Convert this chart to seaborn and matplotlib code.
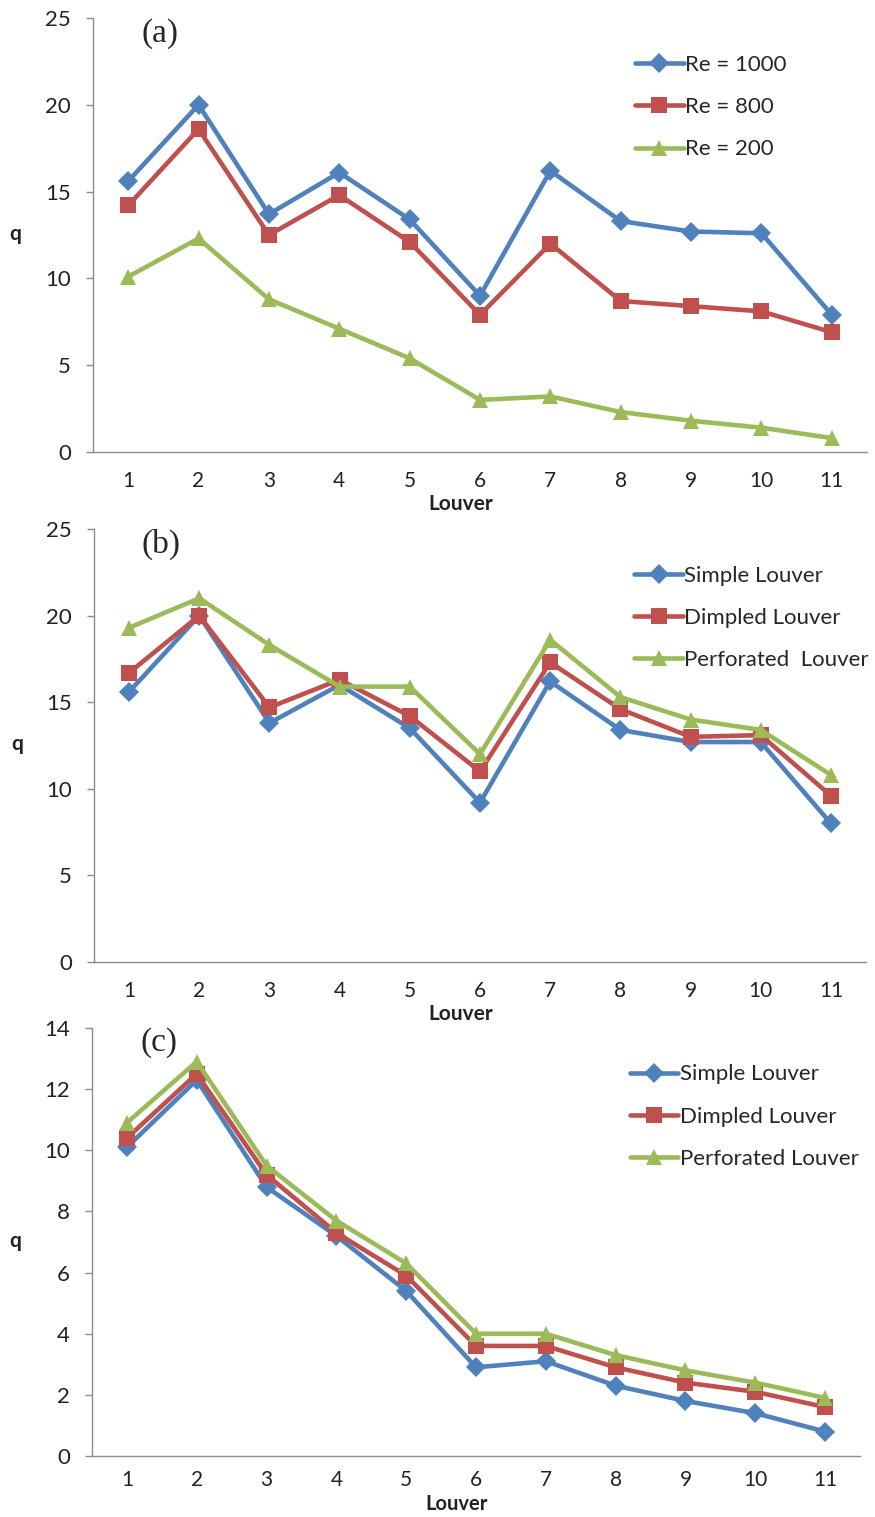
import numpy as np
import pandas as pd
import matplotlib.pyplot as plt
from matplotlib.ticker import MultipleLocator
import seaborn as sns

# Datos
louver = list(range(1, 12))

# (a) Simple louver para distintos Re
a_re1000 = [15.6, 20.0, 13.7, 16.1, 13.4, 9.0, 16.2, 13.3, 12.7, 12.6, 7.9]
a_re800 = [14.2, 18.6, 12.5, 14.8, 12.1, 7.9, 12.0, 8.7, 8.4, 8.1, 6.9]
a_re200 = [10.1, 12.3, 8.8, 7.1, 5.4, 3.0, 3.2, 2.3, 1.8, 1.4, 0.8]

# (b) distintos louvers
b_simple = [15.6, 20.0, 13.8, 16.0, 13.5, 9.2, 16.2, 13.4, 12.7, 12.7, 8.0]
b_dimpled = [16.7, 20.0, 14.7, 16.3, 14.2, 11.0, 17.3, 14.6, 13.0, 13.1, 9.6]
b_perforated = [19.3, 21.0, 18.3, 15.9, 15.9, 12.0, 18.6, 15.3, 14.0, 13.4, 10.8]

# (c) distintos louvers
c_simple = [10.1, 12.3, 8.8, 7.2, 5.4, 2.9, 3.1, 2.3, 1.8, 1.4, 0.8]
c_dimpled = [10.4, 12.5, 9.2, 7.3, 5.9, 3.6, 3.6, 2.9, 2.4, 2.1, 1.6]
c_perforated = [10.9, 12.9, 9.5, 7.7, 6.3, 4.0, 4.0, 3.3, 2.8, 2.4, 1.9]

labels_a = ['Re = 1000', 'Re = 800', 'Re = 200']
labels_b = ['Simple Louver', 'Dimpled Louver', 'Perforated  Louver']
labels_c = ['Simple Louver', 'Dimpled Louver', 'Perforated Louver']

# Estilo
sns.set_theme(style="white")
plt.rcParams['font.family'] = ['Lato', 'DejaVu Sans']

colores = ['#4F81BD', '#C0504D', '#9BBB59']
marcadores = ['D', 's', '^']
tam_marcador = [10, 11, 12]
gris = '#8c8c8c'
texto = '#222222'

fig = plt.figure(figsize=(8.75, 15.17), dpi=100)

# letra, series, etiquetas, ymax, paso, posición, pad ticks x, y de "Louver", tamaño "Louver"
paneles = [
    ('(a)', [a_re1000, a_re800, a_re200], labels_a, 25, 5,
     [93 / 875, 1065 / 1517, 774 / 875, 434 / 1517], 14, -0.097, 15),
    ('(b)', [b_simple, b_dimpled, b_perforated], labels_b, 25, 5,
     [94 / 875, 555 / 1517, 772 / 875, 433 / 1517], 14, -0.097, 15),
    ('(c)', [c_simple, c_dimpled, c_perforated], labels_c, 14, 2,
     [92 / 875, 61 / 1517, 768 / 875, 428 / 1517], 10, -0.088, 14.5),
]

for letra, series, etiquetas, ymax, paso, pos, pad_x, y_louver, tam_louver in paneles:
    ax = fig.add_axes(pos)
    for vals, lab, col, mk, ms in zip(series, etiquetas, colores, marcadores, tam_marcador):
        df = pd.DataFrame({'Louver': louver, 'q': vals})
        sns.lineplot(x='Louver', y='q', data=df, ax=ax, color=col, marker=mk,
                     markersize=ms, markeredgewidth=0, linewidth=3.3, label=lab,
                     clip_on=False)

    ax.set_xlim(0.5, 11.5)
    ax.set_ylim(0, ymax)
    ax.yaxis.set_major_locator(MultipleLocator(paso))

    # Ejes al estilo Excel
    for lado in ['top', 'right']:
        ax.spines[lado].set_visible(False)
    for lado in ['left', 'bottom']:
        ax.spines[lado].set_color(gris)
        ax.spines[lado].set_linewidth(1.0)

    ax.set_xticks(louver)
    ax.set_xticks(np.arange(0.5, 12, 1), minor=True)
    ax.tick_params(axis='x', which='major', length=0, pad=pad_x, labelsize=15, labelcolor=texto)
    ax.tick_params(axis='x', which='minor', length=5, width=1, color=gris, direction='out')
    ax.tick_params(axis='y', which='major', length=5, width=1, color=gris, direction='out',
                   pad=11, labelsize=16, labelcolor=texto, left=True)

    ax.set_xlabel('Louver', fontsize=tam_louver, fontweight='bold', color=texto)
    ax.xaxis.set_label_coords(0.475, y_louver)
    ax.set_ylabel('q', fontsize=15, fontweight='bold', rotation=0, color=texto)
    ax.yaxis.set_label_coords(-0.10, 0.48)

    ax.text(0.087, 0.965, letra, transform=ax.transAxes, fontsize=24,
            family='Liberation Serif', ha='center', va='center')

    ax.legend(loc='upper left', bbox_to_anchor=(0.70, 0.915), frameon=False,
              fontsize=16, handlelength=2.2, handletextpad=0.05, labelspacing=1.0,
              borderpad=0, borderaxespad=0)

plt.savefig('out.png', dpi=100)
